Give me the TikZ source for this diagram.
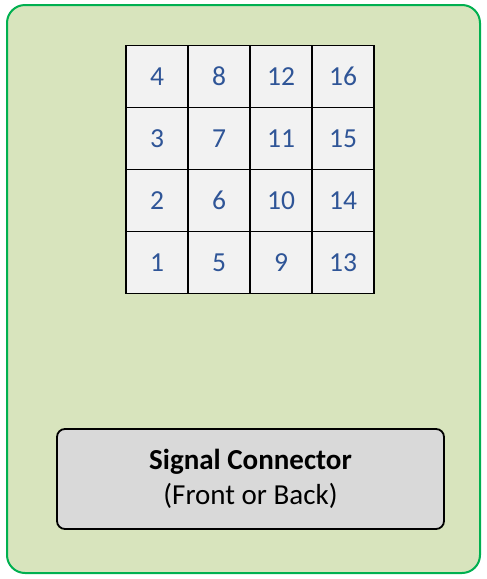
\documentclass[tikz,border=0pt]{standalone}
\usepackage{fontspec}
\setmainfont{Carlito}
\usetikzlibrary{positioning}
\usetikzlibrary{matrix}

\definecolor{panelgreen}{RGB}{216,228,189}
\definecolor{panelborder}{RGB}{0,176,80}
\definecolor{pinblue}{RGB}{47,85,151}
\definecolor{cellgray}{RGB}{242,242,242}
\definecolor{boxgray}{RGB}{217,217,217}

\begin{document}
\begin{tikzpicture}[x=1pt,y=-1pt]

\tikzset{pin matrix/.style={
		matrix of nodes,
		column sep=-\pgflinewidth, row sep=-\pgflinewidth,
		nodes={draw,
			fill=cellgray,
			minimum height=#1,
			anchor=center,
			text width=#1,
			align=center,
			inner sep=0pt,
			text=pinblue,
			font=\fontsize{27.5}{27.5}\selectfont
		},
	},
	pin matrix/.default=62pt,
	connector box/.style={
		draw, fill=boxgray, line width=1.8pt,
		rounded corners=8pt,
		minimum width=387pt, minimum height=100pt,
		align=center, inner sep=0pt,
		font=\fontsize{29}{35}\selectfont
	}
}
\useasboundingbox (0,0) rectangle (487,579);
% panel
\draw[panelborder, line width=2pt, fill=panelgreen, rounded corners=18pt]
	(7,5) rectangle (480,573);
%|[fill=yellow]|
\matrix[pin matrix, line width=1.9pt] (pins) at (250,169.5)
{
	4 & 8 & 12 & 16 \\
	3 & 7 & 11 & 15 \\
	2 & 6 & 10 & 14 \\
	1 & 5 & 9  & 13 \\
};
\node[connector box] (connector) at (250.5,479)
	{\textbf{Signal Connector}\\(Front or Back)};
\end{tikzpicture}
\end{document}
